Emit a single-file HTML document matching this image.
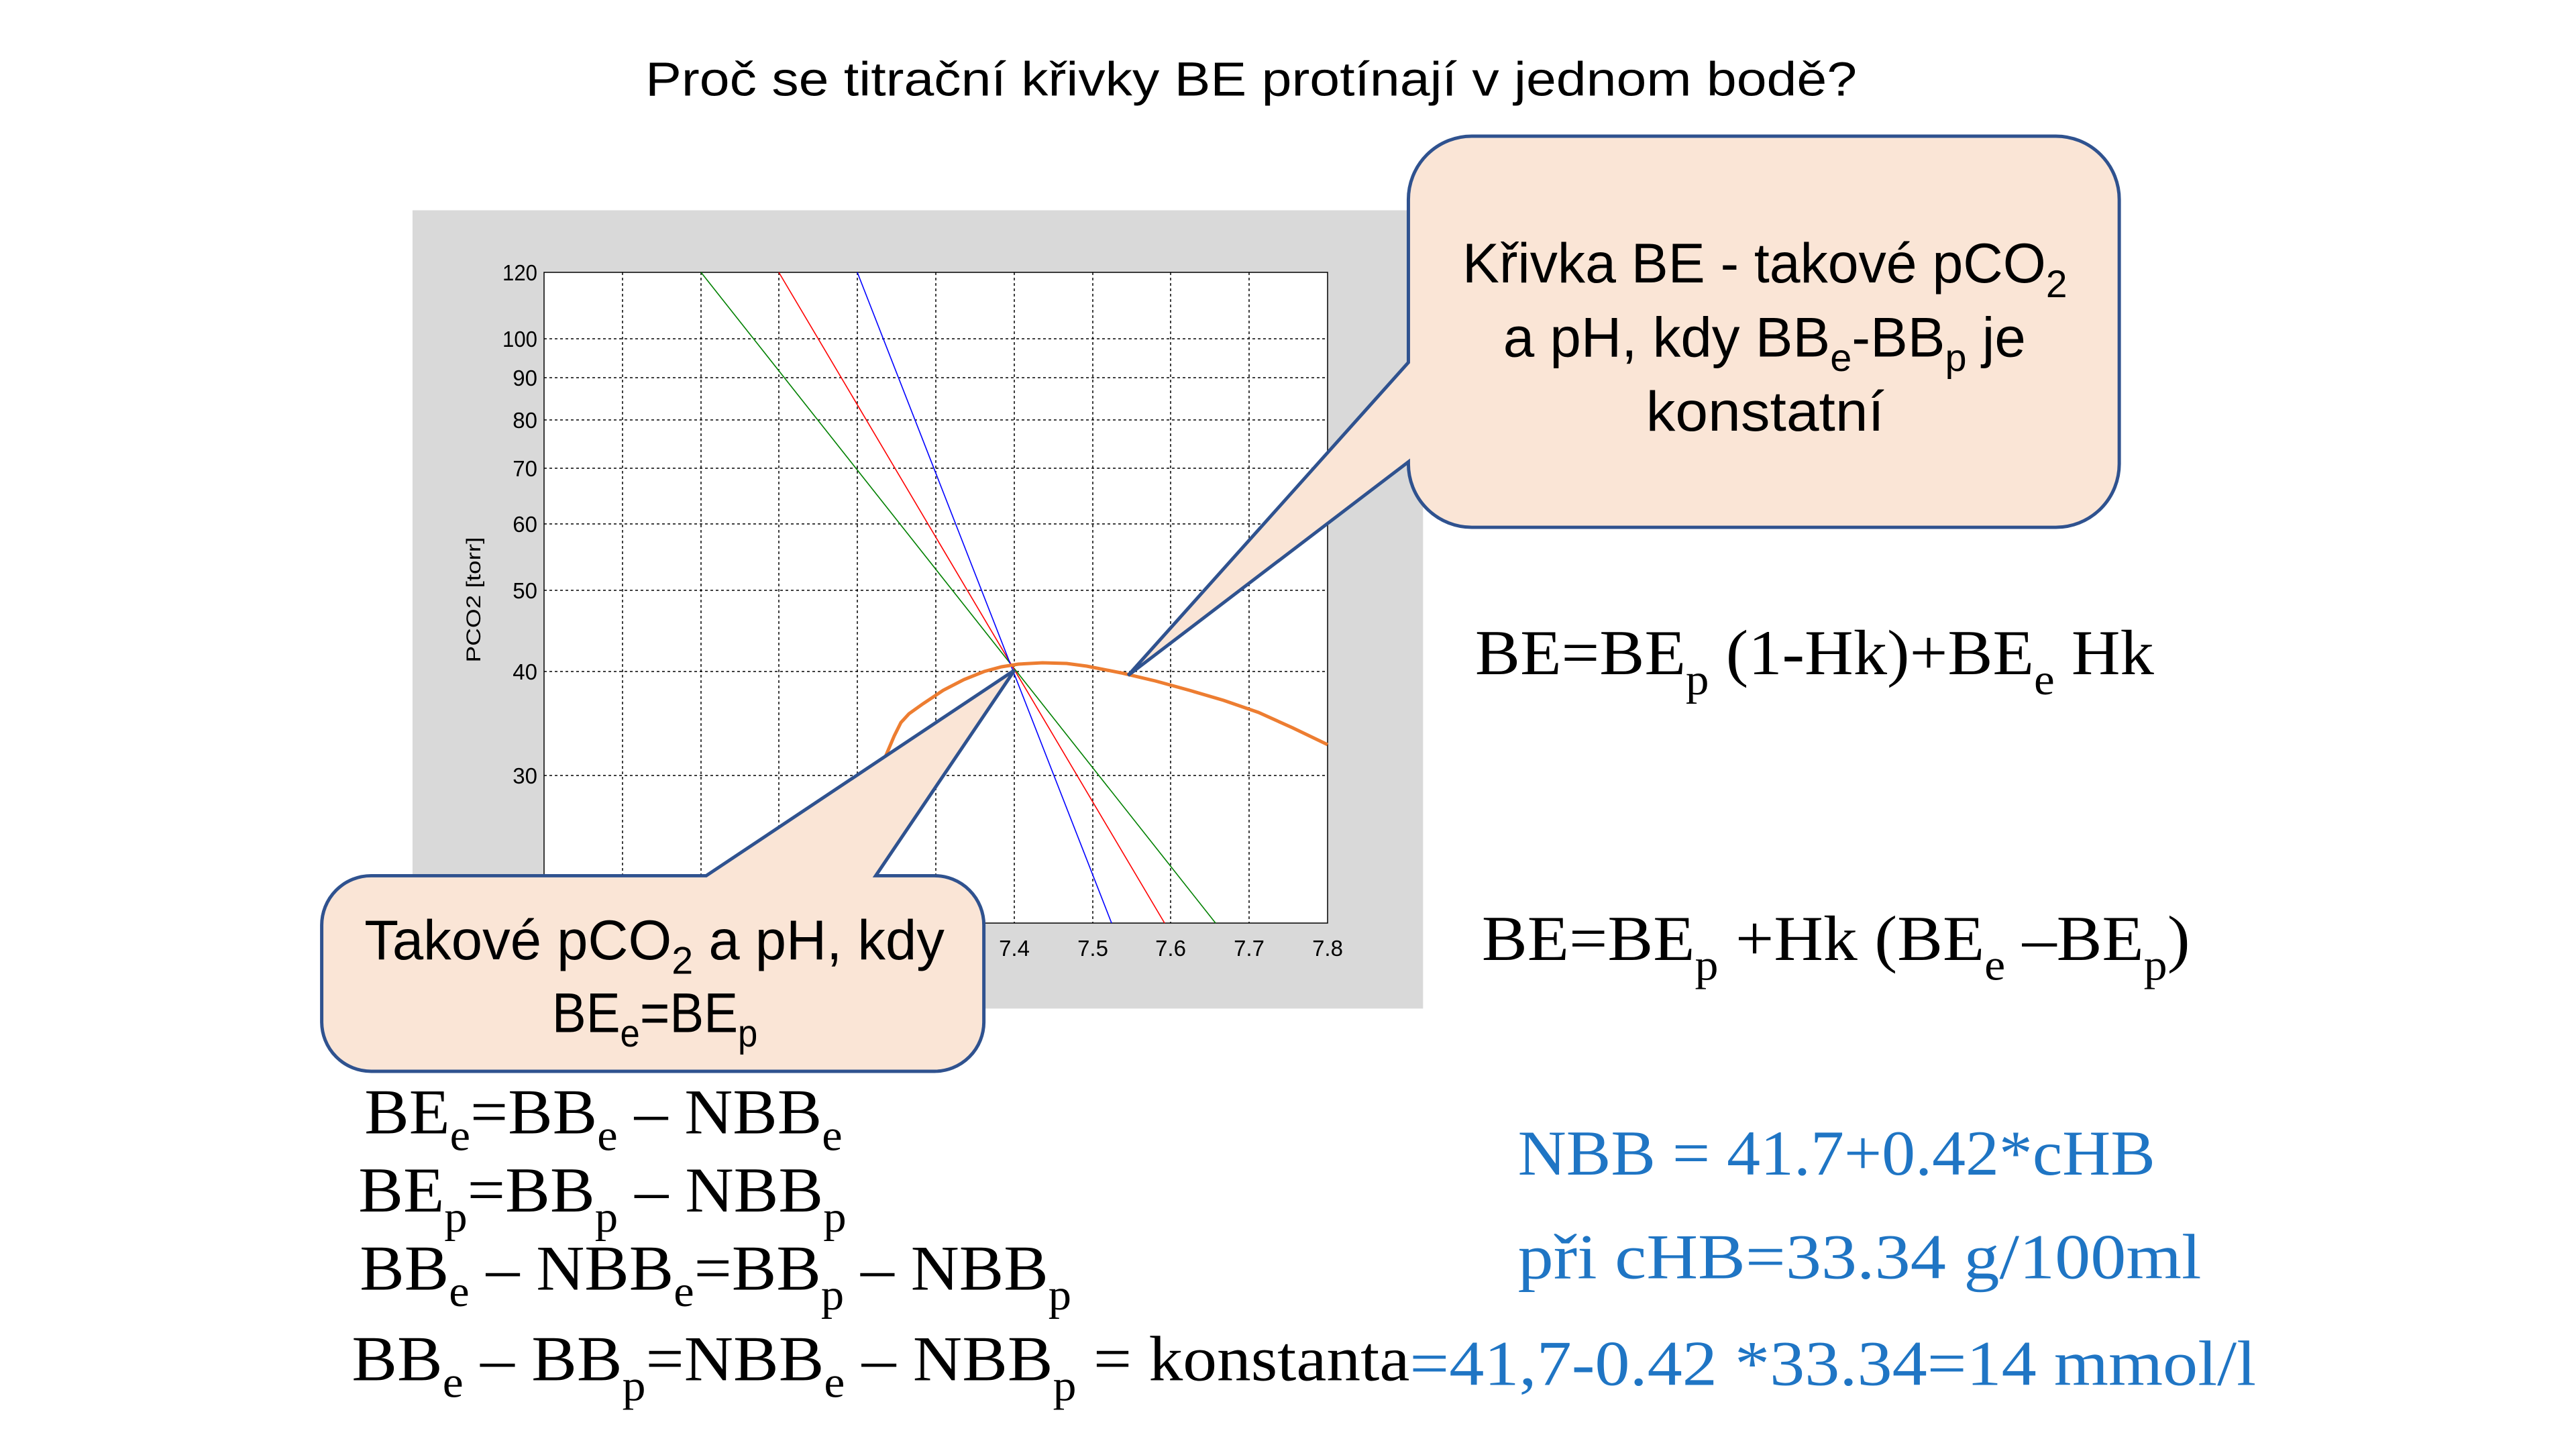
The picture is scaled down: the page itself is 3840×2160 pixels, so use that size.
<!DOCTYPE html>
<html><head><meta charset="utf-8"><style>
html,body{margin:0;padding:0;background:#fff;}
svg{display:block;}
</style></head><body>
<svg width="3840" height="2160" viewBox="0 0 3840 2160" xmlns="http://www.w3.org/2000/svg">
<rect width="3840" height="2160" fill="#fff"/>
<g transform="scale(0.995)">
<text x="967" y="143" font-family="Liberation Sans, sans-serif" font-size="72" textLength="1815" lengthAdjust="spacingAndGlyphs" fill="#000">Proč se titrační křivky BE protínají v jednom bodě?</text>
<rect x="618" y="315" width="1514" height="1196" fill="#d9d9d9"/>
</g>
<g>
<rect x="811" y="406" width="1168" height="970" fill="#fff" stroke="#000" stroke-width="1.5"/>
<g stroke="#000" stroke-width="1.5" stroke-dasharray="4 4" fill="none">
<line x1="928" y1="406" x2="928" y2="1376"/><line x1="1045" y1="406" x2="1045" y2="1376"/>
<line x1="1161" y1="406" x2="1161" y2="1376"/><line x1="1278" y1="406" x2="1278" y2="1376"/>
<line x1="1395" y1="406" x2="1395" y2="1376"/><line x1="1512" y1="406" x2="1512" y2="1376"/>
<line x1="1629" y1="406" x2="1629" y2="1376"/><line x1="1745" y1="406" x2="1745" y2="1376"/>
<line x1="1862" y1="406" x2="1862" y2="1376"/>
<line x1="811" y1="505" x2="1979" y2="505"/><line x1="811" y1="563" x2="1979" y2="563"/>
<line x1="811" y1="626" x2="1979" y2="626"/><line x1="811" y1="698" x2="1979" y2="698"/>
<line x1="811" y1="781" x2="1979" y2="781"/><line x1="811" y1="880" x2="1979" y2="880"/>
<line x1="811" y1="1001" x2="1979" y2="1001"/><line x1="811" y1="1156" x2="1979" y2="1156"/>
</g>
<g font-family="Liberation Sans, sans-serif" font-size="33" fill="#000" text-anchor="end">
<text x="801" y="418" textLength="52" lengthAdjust="spacingAndGlyphs">120</text>
<text x="801" y="517" textLength="52" lengthAdjust="spacingAndGlyphs">100</text>
<text x="801" y="575">90</text><text x="801" y="638">80</text>
<text x="801" y="710">70</text><text x="801" y="793">60</text>
<text x="801" y="892">50</text><text x="801" y="1013">40</text>
<text x="801" y="1168">30</text>
</g>
<g font-family="Liberation Sans, sans-serif" font-size="33" fill="#000" text-anchor="middle">
<text x="811" y="1425">6.8</text><text x="928" y="1425">6.9</text><text x="1045" y="1425">7</text>
<text x="1161" y="1425">7.1</text><text x="1278" y="1425">7.2</text><text x="1395" y="1425">7.3</text>
<text x="1512" y="1425">7.4</text><text x="1629" y="1425">7.5</text><text x="1745" y="1425">7.6</text>
<text x="1862" y="1425">7.7</text><text x="1979" y="1425">7.8</text>
</g>
<text transform="translate(716,894) rotate(-90)" text-anchor="middle" font-family="Liberation Sans, sans-serif" font-size="30" textLength="187" lengthAdjust="spacingAndGlyphs">PCO2 [torr]</text>
<g fill="none" stroke-width="1.6">
<line x1="1045" y1="406" x2="1812" y2="1376" stroke="#008000"/>
<line x1="1161" y1="406" x2="1736" y2="1376" stroke="#ff0000"/>
<line x1="1278" y1="406" x2="1657" y2="1376" stroke="#0000ff"/>
</g>
<polyline fill="none" stroke="#ed7d31" stroke-width="5" points="1319,1130 1333,1097 1343,1077 1355,1064 1376,1049 1406,1029 1437,1013 1467,1001 1493,994 1518,990 1554,988 1590,989 1620,993 1671,1003 1722,1015 1773,1029 1824,1044 1876,1062 1927,1085 1979,1110"/>
</g>
<g transform="scale(0.995)">
<path d="M2205,204 H3080 A95,95 0 0 1 3175,299 V695 A95,95 0 0 1 3080,790 H2205 A95,95 0 0 1 2110,695 V692 L1690,1012 L2110,543 V299 A95,95 0 0 1 2205,204 Z" fill="#fae5d6" stroke="#2f528f" stroke-width="5"/>
<g font-family="Liberation Sans, sans-serif" font-size="84" fill="#000">
<text x="2191" y="423" textLength="906" lengthAdjust="spacingAndGlyphs">Křivka BE - takové pCO<tspan dy="22" font-size="58">2</tspan></text>
<text x="2252" y="534" textLength="783" lengthAdjust="spacingAndGlyphs">a pH, kdy BB<tspan dy="22" font-size="58">e</tspan><tspan dy="-22">-BB</tspan><tspan dy="22" font-size="58">p</tspan><tspan dy="-22"> je</tspan></text>
<text x="2466" y="645" textLength="357" lengthAdjust="spacingAndGlyphs">konstatní</text>
</g>
<path d="M556,1312 H1058 L1520,1004 L1312,1312 H1400 A74,74 0 0 1 1474,1386 V1531 A74,74 0 0 1 1400,1605 H556 A74,74 0 0 1 482,1531 V1386 A74,74 0 0 1 556,1312 Z" fill="#fae5d6" stroke="#2f528f" stroke-width="5"/>
<g font-family="Liberation Sans, sans-serif" font-size="84" fill="#000">
<text x="546" y="1437" textLength="869" lengthAdjust="spacingAndGlyphs">Takové pCO<tspan dy="22" font-size="58">2</tspan><tspan dy="-22"> a pH, kdy</tspan></text>
<text x="827" y="1546" textLength="308" lengthAdjust="spacingAndGlyphs">BE<tspan dy="22" font-size="58">e</tspan><tspan dy="-22">=BE</tspan><tspan dy="22" font-size="58">p</tspan></text>
</g>
<g font-family="Liberation Serif, serif" font-size="96" fill="#000">
<text x="2210" y="1010" textLength="1017" lengthAdjust="spacingAndGlyphs">BE=BE<tspan dy="30" font-size="66">p</tspan><tspan dy="-30"> (1-Hk)+BE</tspan><tspan dy="30" font-size="66">e</tspan><tspan dy="-30"> Hk</tspan></text>
<text x="2220" y="1438" textLength="1061" lengthAdjust="spacingAndGlyphs">BE=BE<tspan dy="30" font-size="66">p</tspan><tspan dy="-30"> +Hk (BE</tspan><tspan dy="30" font-size="66">e</tspan><tspan dy="-30"> –BE</tspan><tspan dy="30" font-size="66">p</tspan><tspan dy="-30">)</tspan></text>
<text x="546" y="1698" textLength="716" lengthAdjust="spacingAndGlyphs">BE<tspan dy="25" font-size="66">e</tspan><tspan dy="-25">=BB</tspan><tspan dy="25" font-size="66">e</tspan><tspan dy="-25"> – NBB</tspan><tspan dy="25" font-size="66">e</tspan></text>
<text x="537" y="1815" textLength="731" lengthAdjust="spacingAndGlyphs">BE<tspan dy="30" font-size="66">p</tspan><tspan dy="-30">=BB</tspan><tspan dy="30" font-size="66">p</tspan><tspan dy="-30"> – NBB</tspan><tspan dy="30" font-size="66">p</tspan></text>
<text x="539" y="1932" textLength="1066" lengthAdjust="spacingAndGlyphs">BB<tspan dy="25" font-size="66">e</tspan><tspan dy="-25"> – NBB</tspan><tspan dy="25" font-size="66">e</tspan><tspan dy="-25">=BB</tspan><tspan dy="30" font-size="66">p</tspan><tspan dy="-30"> – NBB</tspan><tspan dy="30" font-size="66">p</tspan></text>
<text x="527" y="2068" textLength="1585" lengthAdjust="spacingAndGlyphs">BB<tspan dy="25" font-size="66">e</tspan><tspan dy="-25"> – BB</tspan><tspan dy="30" font-size="66">p</tspan><tspan dy="-30">=NBB</tspan><tspan dy="25" font-size="66">e</tspan><tspan dy="-25"> – NBB</tspan><tspan dy="30" font-size="66">p</tspan><tspan dy="-30"> = konstanta</tspan></text>
</g>
<g font-family="Liberation Serif, serif" font-size="96" fill="#1f75c4">
<text x="2274" y="1760" textLength="955" lengthAdjust="spacingAndGlyphs">NBB = 41.7+0.42*cHB</text>
<text x="2274" y="1915" textLength="1024" lengthAdjust="spacingAndGlyphs">při cHB=33.34 g/100ml</text>
<text x="2112" y="2075" textLength="1268" lengthAdjust="spacingAndGlyphs">=41,7-0.42 *33.34=14 mmol/l</text>
</g>
</g>
</svg>
</body></html>
